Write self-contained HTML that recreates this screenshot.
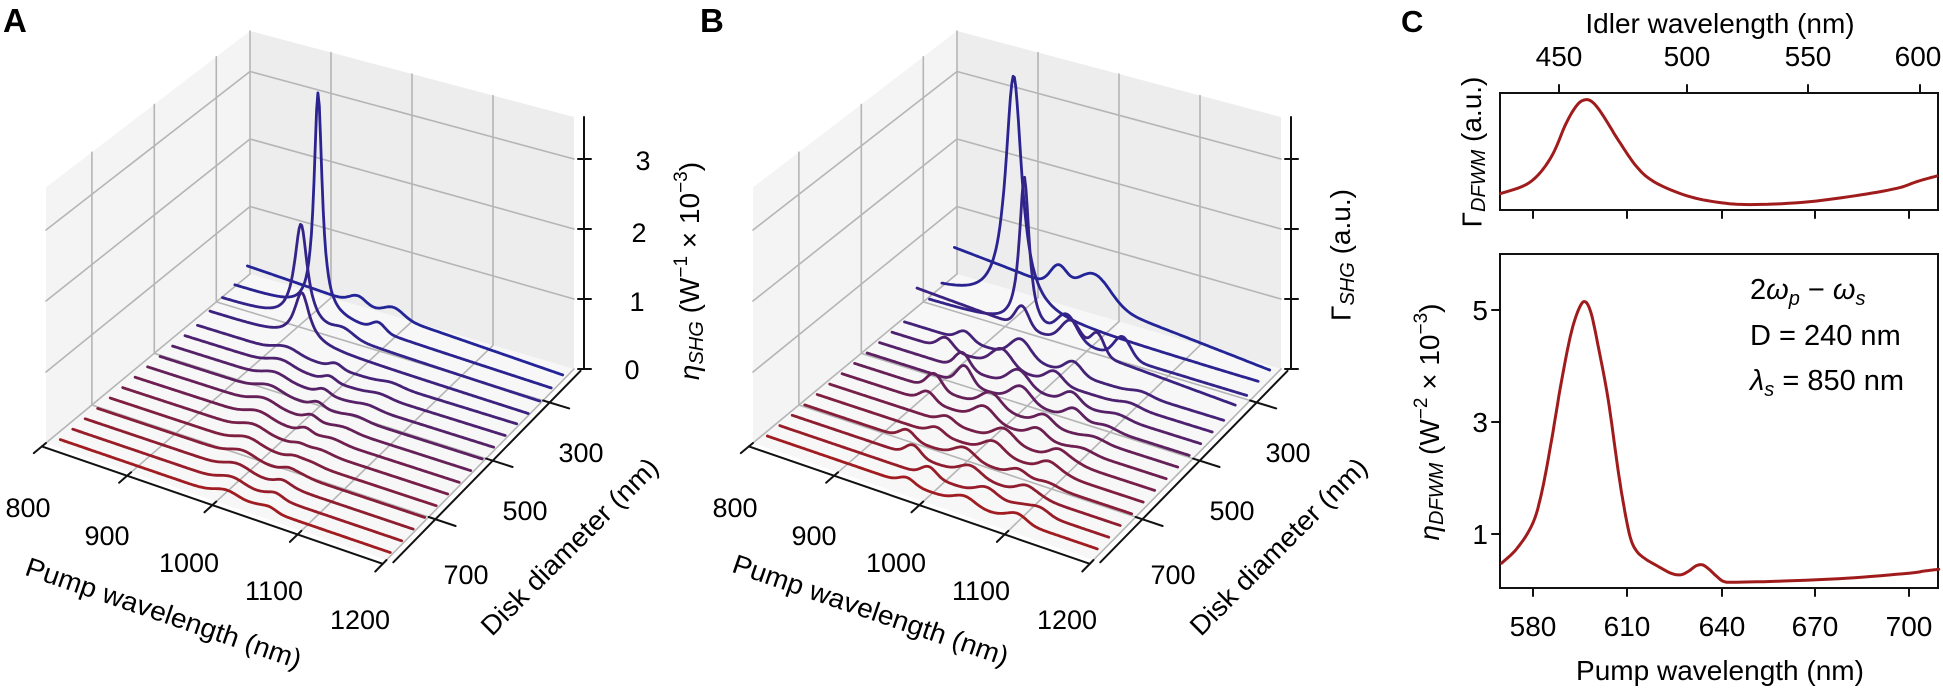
<!DOCTYPE html>
<html><head><meta charset="utf-8"><style>
html,body{margin:0;padding:0;background:#fff;}
svg{display:block;font-family:"Liberation Sans",sans-serif;}
</style></head><body>
<svg id="s" width="1943" height="690" viewBox="0 0 1943 690" xmlns="http://www.w3.org/2000/svg">
<g id="g3d"></g>
<g id="gc"></g>
<text x="3" y="32" font-size="33" font-weight="bold">A</text>
<text x="700" y="32" font-size="33" font-weight="bold">B</text>
<text x="1401" y="32" font-size="31" font-weight="bold">C</text>
<g font-size="27" text-anchor="middle" dominant-baseline="middle">
<text x="28" y="510">800</text><text x="107" y="538">900</text><text x="189" y="565">1000</text><text x="274" y="593">1100</text><text x="360" y="622">1200</text>
<text x="581" y="455">300</text><text x="525" y="513">500</text><text x="466" y="577">700</text>
<text x="632" y="372">0</text><text x="637" y="304">1</text><text x="639" y="235">2</text><text x="643" y="163">3</text>
<text x="735" y="510">800</text><text x="814" y="538">900</text><text x="896" y="565">1000</text><text x="981" y="593">1100</text><text x="1067" y="622">1200</text>
<text x="1288" y="455">300</text><text x="1232" y="513">500</text><text x="1173" y="577">700</text>
</g>
<g font-size="27" text-anchor="middle" dominant-baseline="middle">
<text transform="translate(163,615) rotate(19)" textLength="290" lengthAdjust="spacingAndGlyphs">Pump wavelength (nm)</text>
<text transform="translate(870,612) rotate(19)" textLength="290" lengthAdjust="spacingAndGlyphs">Pump wavelength (nm)</text>
<text transform="translate(571,548) rotate(-45)" textLength="238" lengthAdjust="spacingAndGlyphs">Disk diameter (nm)</text>
<text transform="translate(1280,548) rotate(-45)" textLength="238" lengthAdjust="spacingAndGlyphs">Disk diameter (nm)</text>
<text transform="translate(692,271) rotate(-90)" font-size="28"><tspan font-style="italic">η</tspan><tspan font-style="italic" font-size="20" dy="6">SHG</tspan><tspan dy="-6"> (W</tspan><tspan font-size="19" dy="-10">−1</tspan><tspan dy="10"> × 10</tspan><tspan font-size="19" dy="-10">−3</tspan><tspan dy="10">)</tspan></text>
<text transform="translate(1343,255) rotate(-90)" font-size="28">Γ<tspan font-style="italic" font-size="20" dy="6">SHG</tspan><tspan dy="-6"> (a.u.)</tspan></text>
</g>
<g font-size="28" text-anchor="middle">
<text x="1720" y="33">Idler wavelength (nm)</text>
<text x="1559" y="66">450</text><text x="1687" y="66">500</text><text x="1808" y="66">550</text><text x="1918" y="66">600</text>
<text x="1533" y="636">580</text><text x="1627" y="636">610</text><text x="1722" y="636">640</text><text x="1815" y="636">670</text><text x="1909" y="636">700</text>
<text x="1720" y="680">Pump wavelength (nm)</text>
</g>
<g font-size="28" text-anchor="end">
<text x="1488" y="320">5</text><text x="1488" y="432">3</text><text x="1488" y="544">1</text>
</g>
<g font-size="28" text-anchor="middle" dominant-baseline="middle">
<text transform="translate(1474,152) rotate(-90)">Γ<tspan font-style="italic" font-size="20" dy="6">DFWM</tspan><tspan dy="-6"> (a.u.)</tspan></text>
<text transform="translate(1432,422) rotate(-90)"><tspan font-style="italic">η</tspan><tspan font-style="italic" font-size="20" dy="6">DFWM</tspan><tspan dy="-6"> (W</tspan><tspan font-size="19" dy="-10">−2</tspan><tspan dy="10"> × 10</tspan><tspan font-size="19" dy="-10">−3</tspan><tspan dy="10">)</tspan></text>
</g>
<g font-size="29">
<text x="1750" y="299">2<tspan font-style="italic">ω</tspan><tspan font-style="italic" font-size="20" dy="6">p</tspan><tspan dy="-6"> − </tspan><tspan font-style="italic">ω</tspan><tspan font-style="italic" font-size="20" dy="6">s</tspan></text>
<text x="1750" y="345">D = 240 nm</text>
<text x="1750" y="390"><tspan font-style="italic">λ</tspan><tspan font-style="italic" font-size="20" dy="6">s</tspan><tspan dy="-6"> = 850 nm</tspan></text>
</g>
</svg>
<script>
(function(){
var NS="http://www.w3.org/2000/svg";
var g3=document.getElementById("g3d"), gc=document.getElementById("gc");
function el(par,tag,at){var e=document.createElementNS(NS,tag);for(var k in at)e.setAttribute(k,at[k]);par.appendChild(e);return e;}
var L=[46,443],F=[386.5,560],R=[574,369],B=[250,274];
var kL=71,kF=73,kR=70,kB=67.5;
function P(u,v,z,ox){
 var a=(1-u)*(1-v),b=u*(1-v),c=u*v,d=(1-u)*v;
 var x=a*L[0]+b*F[0]+c*R[0]+d*B[0], y=a*L[1]+b*F[1]+c*R[1]+d*B[1];
 var k=a*kL+b*kF+c*kR+d*kB;
 return [x+ox,y-z*k];
}
function pts(a){return a.map(function(p){return p[0].toFixed(1)+","+p[1].toFixed(1)}).join(" ");}
function line(par,a,stroke,w){el(par,"polyline",{points:pts(a),fill:"none",stroke:stroke,"stroke-width":w,"stroke-linejoin":"round","stroke-linecap":"round"});}
var ZT=3.6, vt=[0.225,0.531,0.835], ut=[0,0.25,0.5,0.75,1];
function g(u,c,w,a){return a*Math.exp(-0.5*Math.pow((u-c)/w,2));}
function lor(u,c,w,a){return a/(1+Math.pow((u-c)/w,2));}
function zA(i,u){
 if(i==15) return 0.32-0.24*u+g(u,.37,.025,.12)+g(u,.48,.03,.13);
 if(i==14) return 0.18-0.12*u+lor(u,.285,.015,3.2)+g(u,.47,.02,.12);
 if(i==13) return 0.14-0.1*u+lor(u,.27,.024,1.45)+g(u,.40,.03,.1);
 if(i==12) return 0.1-0.07*u+lor(u,.31,.028,0.7);
 var s=(11-i);
 return 0.05+g(u,.3+s*0.02,.035,0.09)+g(u,.45+s*0.018,.018,0.07*(i>5?1:0.5))+g(u,.62,.03,0.04);
}
function zB(i,u){
 if(i==15) return 0.6-0.45*u+g(u,.35,.025,.3)+g(u,.46,.05,.4);
 if(i==14) return 0.15+lor(u,.25,.03,3.4);
 if(i==13) return 0.12+lor(u,.32,.018,2.2)+g(u,.45,.03,.35)+g(u,.62,.025,.3);
 if(i==12) return 0.45-0.3*u+g(u,.35,.02,.3)+g(u,.5,.03,.35)+g(u,.58,.02,.3);
 var c1=0.22+(11-i)*0.02+0.05*Math.sin(i*1.7);
 var f=0.35+0.05*i;
 return 0.1+f*(g(u,c1,.022,0.25+0.1*Math.sin(i))+g(u,c1+0.17,.03,0.3)+g(u,c1+0.33,.025,0.2))+g(u,0.75,0.03,0.05);
}
function color(i){var t=i/15;var r=Math.round(160-125*t),gg=Math.round(28+8*t),b=Math.round(32+120*t);return "rgb("+r+","+gg+","+b+")";}
function panel(ox,zf){
 var G=el(g3,"g",{});
 el(G,"polygon",{points:pts([P(0,0,0,ox),P(0,1,0,ox),P(0,1,ZT,ox),P(0,0,ZT,ox)]),fill:"#f4f4f4"});
 el(G,"polygon",{points:pts([P(0,1,0,ox),P(1,1,0,ox),P(1,1,ZT,ox),P(0,1,ZT,ox)]),fill:"#ededed"});
 el(G,"polygon",{points:pts([P(0,0,0,ox),P(1,0,0,ox),P(1,1,0,ox),P(0,1,0,ox)]),fill:"#f7f7f7"});
 var gcol="#b5b5b5",gw=1.6;
 ut.forEach(function(u){line(G,[P(u,0,0,ox),P(u,1,0,ox)],gcol,gw); if(u>0&&u<1) line(G,[P(u,1,0,ox),P(u,1,ZT,ox)],gcol,gw);});
 vt.forEach(function(v){line(G,[P(0,v,0,ox),P(1,v,0,ox)],gcol,gw); line(G,[P(0,v,0,ox),P(0,v,ZT,ox)],gcol,gw);});
 [1,2,3].forEach(function(z){line(G,[P(0,0,z,ox),P(0,1,z,ox),P(1,1,z,ox)],gcol,gw);});
 line(G,[P(0,1,0,ox),P(0,1,ZT,ox)],gcol,gw);
 line(G,[P(0,-0.02,0,ox),P(1,-0.02,0,ox)],"#111",2);
 line(G,[P(1.02,0,0,ox),P(1.02,1,0,ox)],"#111",2);
 var z0=P(1,1,0,ox),zt=P(1,1,ZT,ox);
 line(G,[[z0[0]+10,z0[1]],[zt[0]+10,zt[1]]],"#111",2);
 ut.forEach(function(u){line(G,[P(u,0.0,0,ox),P(u,-0.06,0,ox)],"#111",2);});
 vt.forEach(function(v){line(G,[P(1.0,v,0,ox),P(1.08,v,0,ox)],"#111",2);});
 [0,1,2,3].forEach(function(z){var p=P(1,1,z,ox);line(G,[[p[0]+4,p[1]],[p[0]+17,p[1]]],"#111",2);});
 for(var i=15;i>=0;i--){
  var v=0.02+i*0.0613,a=[];
  for(var n=0;n<=240;n++){var u=0.03+0.97*n/240;a.push(P(u,v,zf(i,u),ox));}
  line(G,a,color(i),2.8);
 }
}
panel(0,zA);
panel(707,zB);
el(gc,"rect",{x:1500,y:93,width:438,height:117,fill:"none",stroke:"#111","stroke-width":2});
el(gc,"rect",{x:1500,y:254,width:438,height:334,fill:"none",stroke:"#111","stroke-width":2});
[1533,1627,1722,1815,1909].forEach(function(x){line(gc,[[x,588],[x,596]],"#111",2);line(gc,[[x,210],[x,218]],"#111",2);});
[1559,1687,1808,1920].forEach(function(x){line(gc,[[x,93],[x,85]],"#111",2);});
[310,422,534].forEach(function(y){line(gc,[[1500,y],[1492,y]],"#111",2);});
function cr(p,seg){var out=[];for(var i=0;i<p.length-1;i++){var p0=p[Math.max(i-1,0)],p1=p[i],p2=p[i+1],p3=p[Math.min(i+2,p.length-1)];for(var t=0;t<seg;t++){var s=t/seg,s2=s*s,s3=s2*s;out.push([0.5*(2*p1[0]+(-p0[0]+p2[0])*s+(2*p0[0]-5*p1[0]+4*p2[0]-p3[0])*s2+(-p0[0]+3*p1[0]-3*p2[0]+p3[0])*s3),0.5*(2*p1[1]+(-p0[1]+p2[1])*s+(2*p0[1]-5*p1[1]+4*p2[1]-p3[1])*s2+(-p0[1]+3*p1[1]-3*p2[1]+p3[1])*s3)]);}}out.push(p[p.length-1]);return out;}
var d=[[570,0.48],[575,0.75],[580,1.2],[583,1.8],[586,2.7],[589,3.7],[592,4.55],[594.5,5.0],[596.5,5.15],[598.5,4.95],[601,4.3],[604,3.4],[607,2.2],[609,1.5],[611,0.95],[613,0.7],[616,0.55],[620,0.42],[624,0.3],[627,0.27],[629.5,0.33],[632,0.43],[634,0.45],[636,0.38],[638.5,0.25],[641,0.15],[645,0.14],[660,0.16],[680,0.21],[700,0.3],[705,0.34],[709.5,0.37]];
var pb=d.map(function(q){return [1533+(q[0]-580)*3.133,534-(q[1]-1)*56];});
line(gc,cr(pb,8),"#a01c1c",3);
var tz=[[725,440],[780,415],[820,360],[850,280],[870,240],[885,227],[900,232],[920,262],[950,320],[985,380],[1020,415],[1080,445],[1140,460],[1200,465],[1300,460],[1400,445],[1480,428],[1520,412],[1556,400]];
var pt=tz.map(function(q){return [q[0]/1.905+1120,q[1]/2.273];});
line(gc,cr(pt,8),"#a01c1c",3);
})();
</script>
</body></html>
